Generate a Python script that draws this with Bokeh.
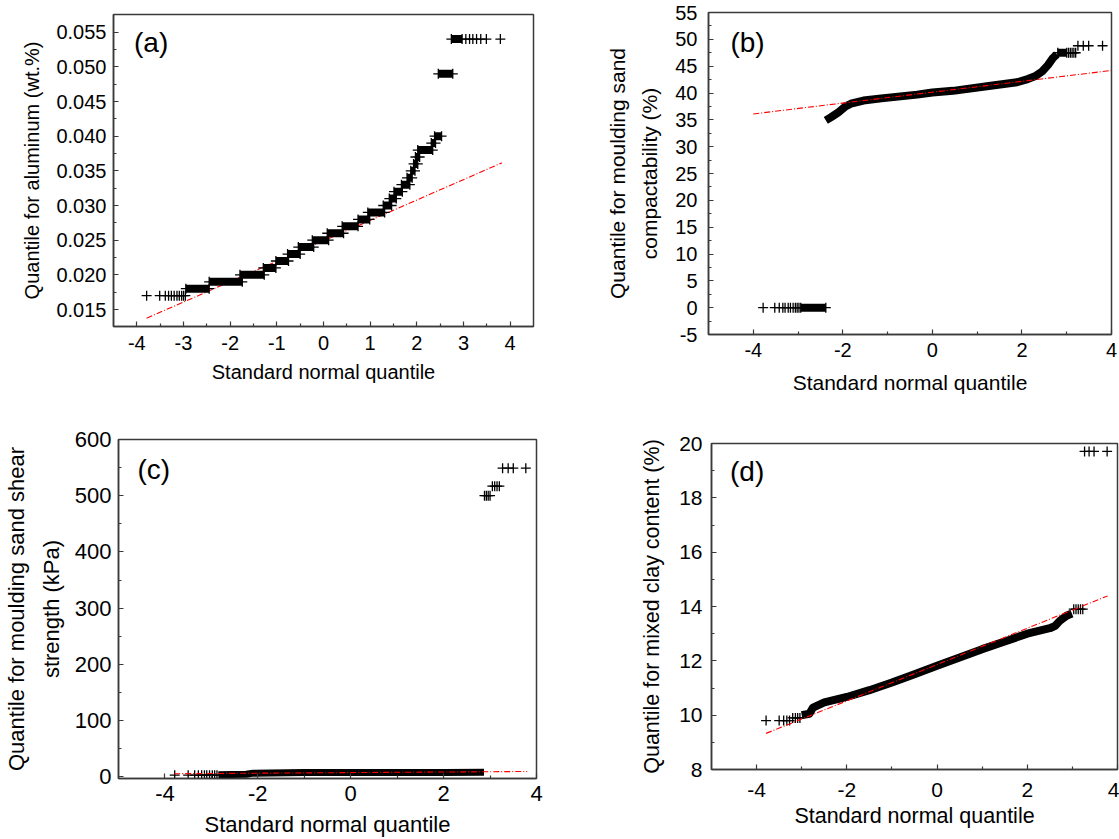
from bokeh.plotting import figure
from bokeh.models import Range1d, FixedTicker, NumeralTickFormatter, Label, LinearAxis
from bokeh.embed import file_html
from bokeh.resources import INLINE

FONT = "Liberation Sans"

# ---------------- data ----------------
# (a) aluminum: horizontal runs of tied values (level, first x, last x)
a_run_y = [0.018, 0.019, 0.020, 0.021, 0.022, 0.023, 0.024, 0.025, 0.026, 0.027,
           0.028, 0.029, 0.030, 0.031, 0.032, 0.033, 0.034, 0.035, 0.036, 0.037,
           0.038, 0.039, 0.040, 0.049, 0.054]
a_run_x0 = [-2.95, -2.45, -1.79, -1.29, -1.02, -0.77, -0.54, -0.24, 0.08, 0.40,
            0.74, 0.95, 1.28, 1.41, 1.51, 1.67, 1.79, 1.87, 1.93, 1.97,
            2.02, 2.31, 2.38, 2.46, 2.74]
a_run_x1 = [-2.45, -1.74, -1.27, -1.02, -0.75, -0.50, -0.21, 0.11, 0.43, 0.74,
            0.99, 1.31, 1.46, 1.56, 1.69, 1.85, 1.90, 1.96, 2.02, 2.06,
            2.34, 2.40, 2.53, 2.77, 2.97]
a_pts_x = [-3.79, -3.51, -3.39, -3.32, -3.26, -3.20, -3.14, -3.09, -3.04, -3.00, -2.96,
           3.05, 3.13, 3.20, 3.28, 3.37, 3.49, 3.79]
a_pts_y = [0.017] * 11 + [0.054] * 7
a_ref_x = [-3.79, 3.82]
a_ref_y = [0.01375, 0.03615]

# (b) moulding sand compactability
b_pts_x = [-3.78, -3.52, -3.42, -3.34, -3.29, -3.22, -3.17, -3.11, -3.06, -3.02, -2.98,
           3.04, 3.08, 3.12, 3.16, 3.20, 3.25, 3.37, 3.49, 3.80]
b_pts_y = [0.0] * 11 + [47.5] * 5 + [48.8] * 4
b_run_y = [0.0, 47.5]
b_run_x0 = [-2.94, 2.80]
b_run_x1 = [-2.38, 3.00]
b_curve_x = [-2.38, -2.26, -2.10, -1.94, -1.82, -1.54, -1.14, -0.34, 0.0, 0.46,
             1.26, 1.89, 2.13, 2.29, 2.45, 2.58, 2.69, 2.78]
b_curve_y = [34.9, 35.5, 36.4, 37.5, 38.0, 38.6, 39.0, 39.7, 40.1, 40.4,
             41.3, 42.0, 42.6, 43.1, 44.0, 45.2, 46.5, 47.2]
b_ref_x = [-4.0, 4.0]
b_ref_y = [36.1, 44.2]

# (c) moulding sand shear strength
c_pts_x = [-3.79, -3.50, -3.36, -3.28, -3.21, -3.15, -3.10, -3.04, -2.98, -2.93, -2.88,
           2.88, 2.92, 2.96, 3.00,
           3.05, 3.10, 3.15, 3.20,
           3.27, 3.39, 3.50, 3.77]
c_pts_y = [3.0] * 11 + [500.0] * 4 + [517.0] * 4 + [549.0] * 4
c_curve_x = [-2.85, -2.25, -2.10, -1.00, 0.00, 1.00, 2.00, 2.87]
c_curve_y = [3.5, 4.5, 6.5, 7.5, 7.5, 7.5, 7.7, 8.0]
c_ref_x = [-3.8, 3.8]
c_ref_y = [5.5, 9.5]

# (d) mixed clay content
d_pts_x = [-3.79, -3.50, -3.40, -3.33, -3.27, -3.20, -3.14, -3.09, -3.04,
           3.03, 3.08, 3.13, 3.18, 3.23, 3.27, 3.37, 3.48, 3.77]
d_pts_y = [9.8] * 5 + [9.9] * 4 + [13.9] * 5 + [19.71] * 4
d_curve_x = [-3.0, -2.83, -2.75, -2.5, -2.0, -1.5, -1.0, -0.5, 0.0, 0.5, 1.0, 1.5,
             2.0, 2.5, 2.62, 2.72, 2.87, 2.99]
d_curve_y = [10.0, 10.05, 10.28, 10.47, 10.67, 10.92, 11.2, 11.51, 11.82, 12.12,
             12.43, 12.71, 13.0, 13.2, 13.29, 13.47, 13.66, 13.74]
d_ref_x = [-3.79, 3.78]
d_ref_y = [9.33, 14.39]

# ticks
a_xticks = [-4, -3, -2, -1, 0, 1, 2, 3, 4]
a_xminor = [-3.5, -2.5, -1.5, -0.5, 0.5, 1.5, 2.5, 3.5]
a_yticks = [0.015, 0.020, 0.025, 0.030, 0.035, 0.040, 0.045, 0.050, 0.055]
a_yminor = [0.0175, 0.0225, 0.0275, 0.0325, 0.0375, 0.0425, 0.0475, 0.0525]
x2_ticks = [-4, -2, 0, 2, 4]
x2_minor = [-3, -1, 1, 3]
b_yticks = [-5, 0, 5, 10, 15, 20, 25, 30, 35, 40, 45, 50, 55]
b_yminor = [-2.5, 2.5, 7.5, 12.5, 17.5, 22.5, 27.5, 32.5, 37.5, 42.5, 47.5, 52.5]
c_yticks = [0, 100, 200, 300, 400, 500, 600]
c_yminor = [50, 150, 250, 350, 450, 550]
d_yticks = [8, 10, 12, 14, 16, 18, 20]
d_yminor = [9, 11, 13, 15, 17, 19]

AX = "#3a3a3a"
XL = "Standard normal quantile"


def make_fig(w, h, xr, yr, bl, br, bt, bb, xt, xm, yt, ym, xlabel, ylabel,
             tick_fs, lab_fs, tick_std_x, tick_std_y, lab_std_x, lab_std_y):
    p = figure(width=w, height=h, x_range=Range1d(*xr), y_range=Range1d(*yr),
               output_backend="svg", toolbar_location=None,
               min_border_left=bl, min_border_right=br, min_border_top=bt,
               min_border_bottom=bb)
    p.xgrid.visible = False
    p.ygrid.visible = False
    p.outline_line_color = AX
    p.outline_line_width = 1.5
    p.xaxis.ticker = FixedTicker(ticks=xt, minor_ticks=xm)
    p.yaxis.ticker = FixedTicker(ticks=yt, minor_ticks=ym)
    p.xaxis.major_label_overrides = {t: str(t) for t in xt}
    for ax in (p.xaxis, p.yaxis):
        ax.axis_line_color = AX
        ax.axis_line_width = 1.5
        ax.major_tick_line_color = AX
        ax.minor_tick_line_color = AX
        ax.major_tick_line_width = 1.2
        ax.minor_tick_line_width = 1.2
        ax.major_tick_in = 5
        ax.major_tick_out = 0
        ax.minor_tick_in = 3
        ax.minor_tick_out = 0
        ax.major_label_text_font = FONT
        ax.major_label_text_font_size = tick_fs
        ax.major_label_text_color = "black"
        ax.axis_label_text_font = FONT
        ax.axis_label_text_font_size = lab_fs
        ax.axis_label_text_font_style = "normal"
        ax.axis_label_text_color = "black"
    p.xaxis.major_label_standoff = tick_std_x
    p.yaxis.major_label_standoff = tick_std_y
    p.xaxis.axis_label_standoff = lab_std_x
    p.yaxis.axis_label_standoff = lab_std_y
    p.xaxis.axis_label = xlabel
    p.yaxis.axis_label = ylabel
    return p


def outer_ylabel(p, text, fs, standoff):
    """First (outer) line of a two-line y-axis title, as a bare extra axis."""
    ax = LinearAxis(ticker=FixedTicker(ticks=[]), axis_line_color=None,
                    major_tick_in=0, major_tick_out=0, minor_tick_in=0, minor_tick_out=0,
                    major_label_text_font_size="1px", major_label_standoff=0,
                    axis_label=text, axis_label_text_font=FONT,
                    axis_label_text_font_size=fs, axis_label_text_font_style="normal",
                    axis_label_text_color="black", axis_label_standoff=standoff)
    p.add_layout(ax, "left")


def panel_label(p, x, y, txt):
    p.add_layout(Label(x=x, y=y, text=txt, text_font=FONT, text_font_size="28px",
                       text_align="left", text_baseline="middle", text_color="black"))


def ref_line(p, x, y):
    p.line(x, y, line_color="red", line_width=1.1, line_dash="6 2 1 2")


def crosses(p, x, y):
    p.scatter(x, y, marker="cross", size=10, line_color="black", line_width=1.3)


# ---- (a)
pa = make_fig(560, 420, (-4.5, 4.5), (0.01255, 0.05755), 113, 27, 14, 94,
              a_xticks, a_xminor, a_yticks, a_yminor, XL,
              "Quantile for aluminum (wt.%)", "20px", "20px", 9, 7, 8, 10)
pa.yaxis.formatter = NumeralTickFormatter(format="0.000")
ref_line(pa, a_ref_x, a_ref_y)
pa.segment(x0=a_run_x0, y0=a_run_y, x1=a_run_x1, y1=a_run_y, line_color="black",
           line_width=8, line_cap="butt")
crosses(pa, a_run_x0 + a_run_x1, a_run_y + a_run_y)
crosses(pa, a_pts_x, a_pts_y)
panel_label(pa, -4.06, 0.05356, "(a)")

# ---- (b)
pb = make_fig(559, 420, (-5, 4), (-5, 55), 148, 8, 12, 86,
              x2_ticks, x2_minor, b_yticks, b_yminor, XL,
              "compactability (%)", "20px", "21px", 8, 11, 11, 11)
outer_ylabel(pb, "Quantile for moulding sand", "21px", 7)
pb.yaxis[0].major_label_overrides = {t: str(t) for t in b_yticks}
pb.segment(x0=b_run_x0, y0=b_run_y, x1=b_run_x1, y1=b_run_y, line_color="black",
           line_width=8, line_cap="butt")
pb.line(b_curve_x, b_curve_y, line_color="black", line_width=8, line_join="round")
crosses(pb, b_run_x0 + b_run_x1, b_run_y + b_run_y)
crosses(pb, b_pts_x, b_pts_y)
ref_line(pb, b_ref_x, b_ref_y)
panel_label(pb, -4.51, 49.4, "(b)")

# ---- (c)
pc = make_fig(560, 419, (-5, 4), (-3, 600), 114, 24, 19, 61,
              x2_ticks, x2_minor, c_yticks, c_yminor, XL,
              "strength (kPa)", "22px", "22px", 7, 7, 8, 8)
outer_ylabel(pc, "Quantile for moulding sand shear", "22px", 7)
pc.line(c_curve_x, c_curve_y, line_color="black", line_width=7, line_join="round")
crosses(pc, c_pts_x, c_pts_y)
ref_line(pc, c_ref_x, c_ref_y)
panel_label(pc, -4.59, 546.6, "(c)")

# ---- (d)
pd_ = make_fig(559, 419, (-5, 4), (8, 20), 151, 2, 23, 70,
               x2_ticks, x2_minor, d_yticks, d_yminor, XL,
               "Quantile for mixed clay content (%)", "21px", "21.5px", 13, 9, 4, 12)
pd_.line(d_curve_x, d_curve_y, line_color="black", line_width=8, line_join="round")
crosses(pd_, d_pts_x, d_pts_y)
ref_line(pd_, d_ref_x, d_ref_y)
panel_label(pd_, -4.59, 18.97, "(d)")

# four independent roots placed in a 2x2 CSS grid (no cross-plot frame alignment)
GRID = """{% block postamble %}
<style>
  html, body { margin: 0; padding: 0; }
  body { display: grid !important; grid-template-columns: 560px 559px;
         grid-template-rows: 420px 419px; width: 1119px; height: 839px; overflow: hidden; }
</style>
{% endblock %}"""

open("out.html", "w").write(file_html([pa, pb, pc, pd_], INLINE, template=GRID))
